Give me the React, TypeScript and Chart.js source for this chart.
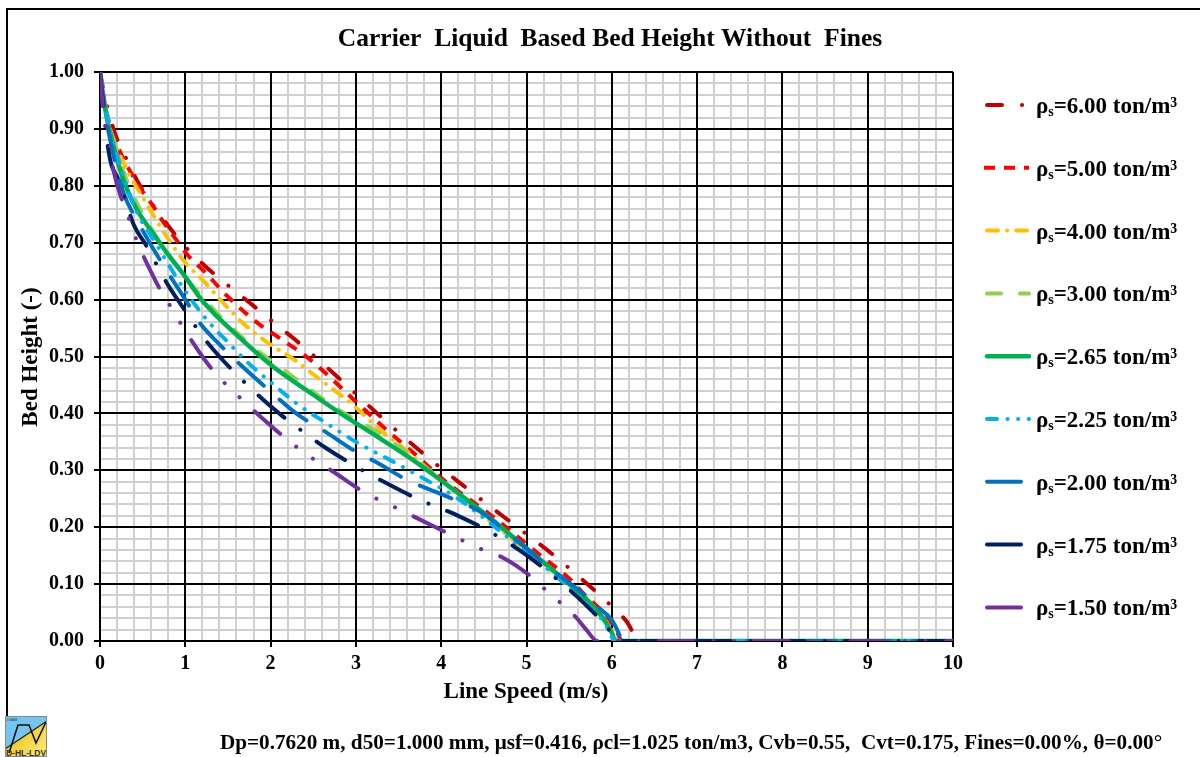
import React, { useEffect, useRef } from 'react';
import { Chart, registerables } from 'chart.js';

Chart.register(...registerables);

// ---- Data (line speed in m/s, bed height in -) ----
const densities = ['6.00', '5.00', '4.00', '3.00', '2.65', '2.25', '2.00', '1.75', '1.50'];

const speed600 = [0, 0.05, 0.1, 0.18, 0.3, 0.47, 0.65, 0.85, 1.05, 1.3, 1.55, 1.8, 2.05, 2.3, 2.8, 3.25, 3.76, 4.26, 4.77, 5.3, 5.79, 6.02, 6.18, 6.25, 6.3, 10];
const bed600 = [1, 0.96, 0.93, 0.89, 0.85, 0.8, 0.76, 0.72, 0.685, 0.65, 0.619, 0.589, 0.558, 0.528, 0.462, 0.4, 0.333, 0.273, 0.214, 0.153, 0.09, 0.058, 0.033, 0.014, 0, 0];

const speed500 = [0, 0.05, 0.1, 0.25, 0.36, 0.5, 0.63, 0.74, 0.88, 1.03, 1.22, 1.5, 1.88, 2.06, 2.46, 2.97, 3.33, 3.68, 4.03, 4.6, 5.15, 5.5, 5.67, 5.9, 6.05, 6.12, 10];
const bed500 = [1, 0.95, 0.915, 0.855, 0.824, 0.79, 0.763, 0.737, 0.708, 0.678, 0.65, 0.605, 0.555, 0.537, 0.495, 0.425, 0.375, 0.33, 0.283, 0.219, 0.152, 0.11, 0.083, 0.05, 0.02, 0, 0];

const speed400 = [0, 0.05, 0.1, 0.3, 0.5, 0.75, 1.0, 1.2, 1.44, 1.68, 1.96, 2.25, 2.6, 2.95, 3.26, 3.55, 4.0, 4.5, 5.0, 5.5, 5.8, 6.0, 6.06, 10];
const bed400 = [1, 0.95, 0.91, 0.833, 0.78, 0.718, 0.665, 0.635, 0.595, 0.558, 0.525, 0.497, 0.457, 0.417, 0.374, 0.34, 0.282, 0.22, 0.158, 0.095, 0.055, 0.02, 0, 0];

const speed300 = [0, 0.05, 0.1, 0.3, 0.6, 1.0, 1.25, 1.5, 1.8, 2.15, 2.5, 2.8, 3.2, 3.5, 3.7, 4.0, 4.5, 5.0, 5.5, 5.8, 5.95, 6.02, 10];
const bed300 = [1, 0.95, 0.915, 0.815, 0.725, 0.64, 0.596, 0.557, 0.516, 0.477, 0.438, 0.406, 0.372, 0.343, 0.32, 0.283, 0.224, 0.162, 0.1, 0.06, 0.025, 0, 0];

const speed265 = [0, 0.05, 0.1, 0.3, 0.7, 1.0, 1.2, 1.66, 2.03, 2.43, 2.82, 3.21, 3.62, 4.0, 4.5, 5.0, 5.5, 5.85, 6.0, 6.04, 10];
const bed265 = [1, 0.945, 0.905, 0.8, 0.7, 0.64, 0.598, 0.53, 0.482, 0.44, 0.4, 0.363, 0.323, 0.282, 0.225, 0.163, 0.1, 0.05, 0.015, 0, 0];

const speed225 = [0, 0.05, 0.1, 0.4, 0.65, 1.0, 1.25, 1.5, 1.75, 2.0, 2.3, 2.6, 3.0, 3.4, 3.8, 4.2, 4.7, 5.2, 5.6, 5.9, 6.05, 10];
const bed225 = [1, 0.945, 0.91, 0.765, 0.7, 0.615, 0.565, 0.525, 0.487, 0.455, 0.418, 0.388, 0.35, 0.318, 0.285, 0.25, 0.192, 0.132, 0.08, 0.035, 0, 0];

const speed200 = [0, 0.05, 0.1, 0.27, 0.44, 0.71, 1.0, 1.18, 1.43, 1.65, 1.98, 2.3, 2.67, 3.03, 3.23, 3.6, 4.0, 4.46, 4.98, 5.3, 5.64, 5.85, 6.0, 6.08, 6.12, 10];
const bed200 = [1, 0.94, 0.895, 0.79, 0.738, 0.668, 0.6, 0.557, 0.517, 0.485, 0.441, 0.4, 0.365, 0.33, 0.315, 0.283, 0.258, 0.227, 0.165, 0.125, 0.086, 0.058, 0.037, 0.014, 0, 0];

const speed175 = [0, 0.05, 0.12, 0.22, 0.4, 0.53, 0.8, 1.0, 1.18, 1.4, 1.79, 2.1, 2.47, 2.64, 3.03, 3.4, 3.72, 4.2, 4.57, 5.0, 5.33, 5.67, 5.97, 6.05, 10];
const bed175 = [1, 0.92, 0.845, 0.81, 0.73, 0.698, 0.625, 0.58, 0.54, 0.5, 0.441, 0.4, 0.358, 0.34, 0.304, 0.274, 0.25, 0.22, 0.192, 0.151, 0.112, 0.067, 0.019, 0, 0];

const speed150 = [0, 0.04, 0.09, 0.16, 0.28, 0.36, 0.44, 0.53, 0.73, 0.84, 1.0, 1.3, 1.68, 1.84, 2.17, 2.35, 2.55, 2.74, 3.09, 3.5, 4.0, 4.52, 4.73, 5.08, 5.25, 5.43, 5.59, 5.7, 5.83, 10];
const bed150 = [1, 0.928, 0.895, 0.826, 0.766, 0.734, 0.7, 0.67, 0.611, 0.585, 0.545, 0.48, 0.422, 0.4, 0.357, 0.336, 0.315, 0.297, 0.262, 0.232, 0.195, 0.158, 0.146, 0.11, 0.086, 0.063, 0.04, 0.02, 0, 0];

const speeds = [speed600, speed500, speed400, speed300, speed265, speed225, speed200, speed175, speed150];
const beds = [bed600, bed500, bed400, bed300, bed265, bed225, bed200, bed175, bed150];

// ---- Styles ----
const seriesColors = ['#C00000', '#FF0000', '#FFC000', '#92D050', '#00B050', '#00B0F0', '#0070C0', '#002060', '#7030A0'];
const seriesDashes = [
  [15, 20, 0.1, 20],
  [11, 9],
  [11, 9, 0.1, 9],
  [14, 19],
  [],
  [10, 10.5, 0.1, 10.5, 0.1, 10.5],
  [34, 21],
  [34, 20, 0.1, 20],
  [34, 20.5, 0.1, 20.5, 0.1, 20.5],
];
const seriesCaps = ['round', 'butt', 'round', 'round', 'round', 'round', 'round', 'round', 'round'];
const seriesWidths = [4, 4, 4, 4, 4.5, 4, 4, 4, 4];

const FONT = '"Liberation Serif", "Times New Roman", serif';
const titleText = 'Carrier  Liquid  Based Bed Height Without  Fines';
const xTitle = 'Line Speed (m/s)';
const yTitle = 'Bed Height (-)';
const footerText = 'Dp=0.7620 m, d50=1.000 mm, \u03bcsf=0.416, \u03c1cl=1.025 ton/m3, Cvb=0.55,  Cvt=0.175, Fines=0.00%, \u03b8=0.00\u00b0';

const isMajorX = (v: number) => Math.abs(v - Math.round(v)) < 1e-6;
const isMajorY = (v: number) => Math.abs(v * 10 - Math.round(v * 10)) < 1e-6;

// Redraw the major (black) grid lines over the minor (grey) ones, as in the reference
const majorGridPlugin = {
  id: 'majorGrid',
  beforeDatasetsDraw(chart: any) {
    const ctx = chart.ctx as CanvasRenderingContext2D;
    const { left, right, top, bottom } = chart.chartArea;
    const align = (p: number) => Math.round(p - 1) + 1;
    ctx.save();
    ctx.strokeStyle = '#000';
    ctx.lineWidth = 2;
    ctx.beginPath();
    chart.scales.x.ticks.forEach((t: any) => {
      if (!isMajorX(t.value)) return;
      const px = align(chart.scales.x.getPixelForValue(t.value));
      ctx.moveTo(px, top);
      ctx.lineTo(px, bottom);
    });
    chart.scales.y.ticks.forEach((t: any) => {
      if (!isMajorY(t.value)) return;
      const py = align(chart.scales.y.getPixelForValue(t.value));
      ctx.moveTo(left, py);
      ctx.lineTo(right, py);
    });
    ctx.stroke();
    ctx.restore();
  },
};

const decorPlugin = {
  id: 'decor',
  afterDraw(chart: any) {
    const ctx = chart.ctx as CanvasRenderingContext2D;
    ctx.save();
    ctx.fillStyle = '#000';
    ctx.textBaseline = 'alphabetic';
    ctx.textAlign = 'center';
    ctx.font = `bold 25.5px ${FONT}`;
    ctx.fillText(titleText, 610, 46);
    ctx.font = `bold 23px ${FONT}`;
    ctx.fillText(xTitle, 526, 698);
    ctx.save();
    ctx.translate(37, 357);
    ctx.rotate(-Math.PI / 2);
    ctx.fillText(yTitle, 0, 0);
    ctx.restore();
    ctx.font = `bold 21.2px ${FONT}`;
    ctx.fillText(footerText, 691, 749);

    // legend
    chart.data.datasets.forEach((ds: any, i: number) => {
      const y = 105 + i * 62.8;
      ctx.save();
      ctx.beginPath();
      ctx.rect(984, y - 10, 47, 20);
      ctx.clip();
      ctx.beginPath();
      ctx.strokeStyle = ds.borderColor;
      ctx.lineWidth = ds.borderWidth;
      ctx.lineCap = ds.borderCapStyle;
      ctx.setLineDash(ds.borderDash);
      const x0 = ds.borderCapStyle === 'butt' ? 984 : 987;
      ctx.moveTo(x0, y);
      ctx.lineTo(1029, y);
      ctx.stroke();
      ctx.restore();

      ctx.textAlign = 'left';
      const base = y + 8;
      let x = 1036;
      ctx.font = `bold 23px ${FONT}`;
      ctx.fillText('\u03c1', x, base);
      x += ctx.measureText('\u03c1').width;
      ctx.font = `bold 14px ${FONT}`;
      ctx.fillText('s', x, base + 3);
      x += ctx.measureText('s').width;
      ctx.font = `bold 23px ${FONT}`;
      ctx.fillText(`=${densities[i]} ton/m\u00b3`, x, base);
    });
    ctx.restore();
  },
};

export default function App() {
  const canvasRef = useRef<HTMLCanvasElement | null>(null);

  useEffect(() => {
    document.body.style.margin = '0';
    const canvas = canvasRef.current;
    if (!canvas) return;
    const datasets = densities.map((d, i) => ({
      label: `\u03c1s=${d} ton/m\u00b3`,
      data: speeds[i].map((s, k) => ({ x: s, y: beds[i][k] })),
      borderColor: seriesColors[i],
      backgroundColor: seriesColors[i],
      borderWidth: seriesWidths[i],
      borderDash: seriesDashes[i],
      borderCapStyle: seriesCaps[i],
      borderJoinStyle: 'round',
      pointRadius: 0,
      pointHoverRadius: 0,
      fill: false,
      cubicInterpolationMode: 'monotone',
      order: densities.length - 1 - i,
    }));

    const tickFont = { family: FONT, size: 20, weight: 'bold' };

    const chart = new Chart(canvas, {
      type: 'line',
      data: { datasets } as any,
      plugins: [majorGridPlugin, decorPlugin],
      options: {
        animation: false,
        responsive: false,
        devicePixelRatio: 1,
        events: [],
        layout: { padding: { left: 0, right: 247, top: 72, bottom: 0 } },
        plugins: {
          legend: { display: false },
          title: { display: false },
          tooltip: { enabled: false },
        },
        scales: {
          x: {
            type: 'linear',
            min: 0,
            max: 10,
            afterFit: (s: any) => { s.height = 116; },
            ticks: {
              stepSize: 0.2,
              autoSkip: false,
              maxRotation: 0,
              minRotation: 0,
              padding: 5,
              color: '#000',
              font: tickFont,
              callback: (v: any) => (isMajorX(Number(v)) ? String(Math.round(Number(v))) : ''),
            },
            grid: {
              color: (c: any) => (c.tick && isMajorX(c.tick.value) ? '#000000' : '#D0D0D0'),
              lineWidth: 2,
              tickLength: 6,
              tickColor: (c: any) => (c.tick && isMajorX(c.tick.value) ? '#000000' : 'rgba(0,0,0,0)'),
            },
            border: { display: true, color: '#000', width: 2 },
          },
          y: {
            type: 'linear',
            min: 0,
            max: 1,
            afterFit: (s: any) => { s.width = 100; },
            ticks: {
              stepSize: 0.02,
              autoSkip: false,
              padding: 10,
              color: '#000',
              font: tickFont,
              callback: (v: any) => (isMajorY(Number(v)) ? Number(v).toFixed(2) : ''),
            },
            grid: {
              color: (c: any) => (c.tick && isMajorY(c.tick.value) ? '#000000' : '#D0D0D0'),
              lineWidth: 2,
              tickLength: 6,
              tickColor: (c: any) => (c.tick && isMajorY(c.tick.value) ? '#000000' : 'rgba(0,0,0,0)'),
            },
            border: { display: true, color: '#000', width: 2 },
          },
        },
      } as any,
    });
    return () => chart.destroy();
  }, []);

  return (
    <div style={{ position: 'fixed', left: 0, top: 0, width: 1200, height: 757, overflow: 'hidden', background: '#fff' }}>
      <div style={{ position: 'absolute', left: 6, top: 8, width: 1300, height: 900, borderLeft: '2px solid #000', borderTop: '2px solid #000' }} />
      <canvas ref={canvasRef} width={1200} height={757} style={{ position: 'absolute', left: 0, top: 0 }} />
      <svg style={{ position: 'absolute', left: 5, top: 716 }} width={42} height={41} viewBox="0 0 42 41">
        <defs>
          <linearGradient id="logoGrad" x1="0" y1="0" x2="1" y2="1">
            <stop offset="0" stopColor="#E6AE00" />
            <stop offset="1" stopColor="#FFF07A" />
          </linearGradient>
        </defs>
        <rect x="0" y="0" width="42" height="41" fill="url(#logoGrad)" />
        <polygon points="0,0 42,0 42,5 0,33" fill="#74C6F0" />
        <line x1="0" y1="33" x2="42" y2="5" stroke="#222" strokeWidth="1.2" />
        <polyline points="4,37 13,9 24,9 31,27 41,6" fill="none" stroke="#111" strokeWidth="1.6" />
        <text x="2" y="5" fontSize="3.5" fontFamily="Liberation Sans" fill="#333">DSAM</text>
        <text x="21" y="39.5" fontSize="8.5" fontWeight="bold" fontFamily="Liberation Sans" textAnchor="middle" fill="#333">D-HL-LDV</text>
        <rect x="0.5" y="0.5" width="41" height="40" fill="none" stroke="#888" strokeWidth="1" />
      </svg>
    </div>
  );
}
